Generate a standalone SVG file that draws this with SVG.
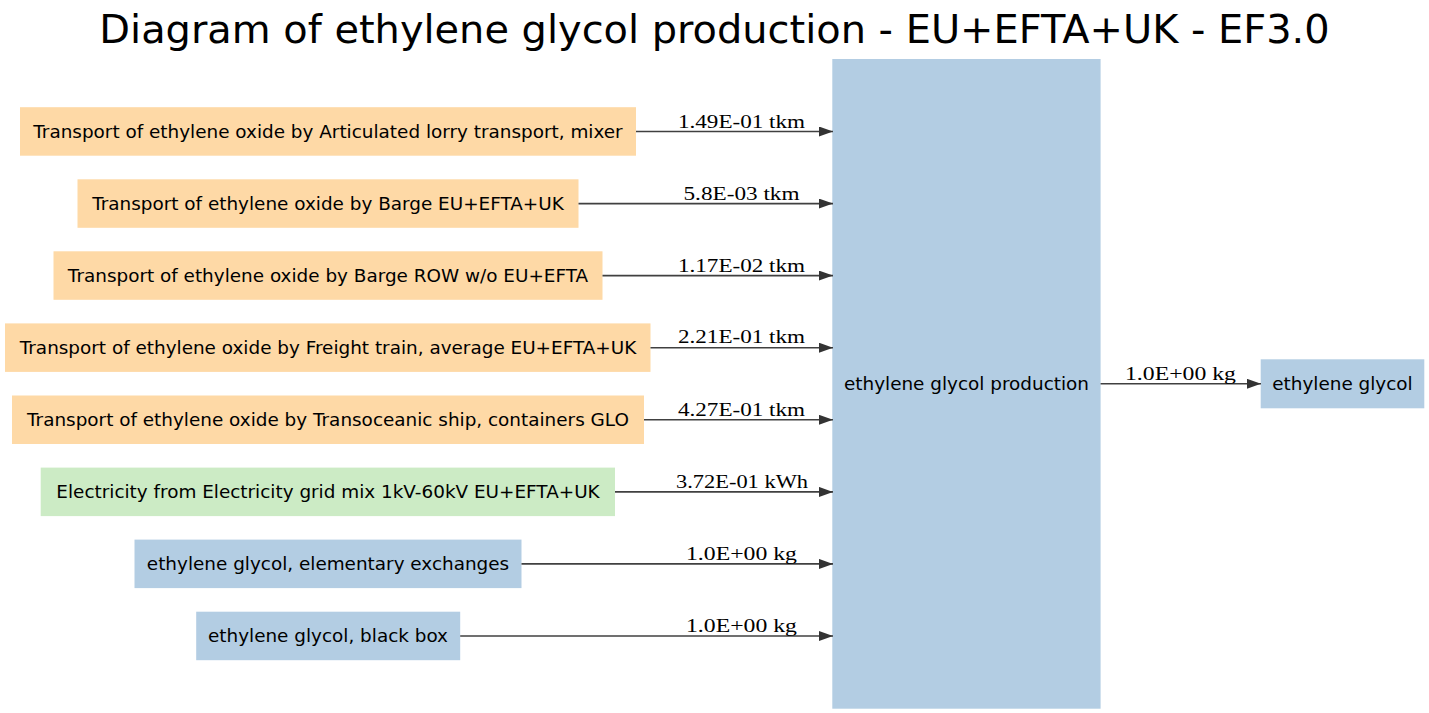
<svg xmlns="http://www.w3.org/2000/svg" width="1429" height="713" viewBox="0 0 1429 713">
<style>
.bg{fill:#ffffff}
.title{font-family:"DejaVu Sans",sans-serif;font-size:39.9px;fill:#000;text-anchor:middle}
.nt{font-family:"DejaVu Sans",sans-serif;font-size:18.4px;fill:#000;text-anchor:middle}
.el{font-family:"Liberation Serif","Times New Roman",serif;font-size:19.5px;fill:#000;text-anchor:middle}
.orange{fill:#fed9a6}
.green{fill:#ccebc5}
.blue{fill:#b3cde3}
.edge{stroke:#404040;stroke-width:1.6;fill:none}
</style>
<defs>
<marker id="arr" markerUnits="userSpaceOnUse" markerWidth="15" markerHeight="11" refX="14" refY="5" orient="auto">
<path d="M0,0 L14,5 L0,10 z" fill="#333333"/>
</marker>
</defs>
<rect class="bg" x="0" y="0" width="1429" height="713"/>
<text class="title" x="714.5" y="43">Diagram of ethylene glycol production - EU+EFTA+UK - EF3.0</text>

<g id="n1"><rect class="orange" x="20" y="107.2" width="616" height="48.5"/><text class="nt" x="328" y="137.6">Transport of ethylene oxide by Articulated lorry transport, mixer</text></g>
<g id="n2"><rect class="orange" x="77.5" y="179.3" width="501" height="48.5"/><text class="nt" x="328" y="209.7">Transport of ethylene oxide by Barge EU+EFTA+UK</text></g>
<g id="n3"><rect class="orange" x="53.5" y="251.3" width="549" height="48.5"/><text class="nt" x="328" y="281.7">Transport of ethylene oxide by Barge ROW w/o EU+EFTA</text></g>
<g id="n4"><rect class="orange" x="5" y="323.4" width="645.5" height="48.5"/><text class="nt" x="328" y="353.8">Transport of ethylene oxide by Freight train, average EU+EFTA+UK</text></g>
<g id="n5"><rect class="orange" x="12" y="395.5" width="632" height="48.5"/><text class="nt" x="328" y="425.9">Transport of ethylene oxide by Transoceanic ship, containers GLO</text></g>
<g id="n6"><rect class="green" x="40.7" y="467.6" width="574.3" height="48.5"/><text class="nt" x="328" y="498">Electricity from Electricity grid mix 1kV-60kV EU+EFTA+UK</text></g>
<g id="n7"><rect class="blue" x="134.5" y="539.6" width="387" height="48.5"/><text class="nt" x="328" y="570">ethylene glycol, elementary exchanges</text></g>
<g id="n8"><rect class="blue" x="196.2" y="611.7" width="264" height="48.5"/><text class="nt" x="328" y="642.1">ethylene glycol, black box</text></g>
<g id="main"><rect class="blue" x="832.3" y="59" width="268.3" height="649.7"/><text class="nt" x="966.5" y="389.6">ethylene glycol production</text></g>
<g id="out"><rect class="blue" x="1260.7" y="359.3" width="163.6" height="49"/><text class="nt" x="1342.5" y="389.6">ethylene glycol</text></g>

<g id="edges">
<line class="edge" x1="636" y1="131.5" x2="833" y2="131.5" marker-end="url(#arr)"/>
<text class="el" x="741.5" y="127.5" textLength="127" lengthAdjust="spacingAndGlyphs">1.49E-01 tkm</text>
<line class="edge" x1="578.5" y1="203.6" x2="833" y2="203.6" marker-end="url(#arr)"/>
<text class="el" x="741.5" y="199.6" textLength="116" lengthAdjust="spacingAndGlyphs">5.8E-03 tkm</text>
<line class="edge" x1="602.5" y1="275.6" x2="833" y2="275.6" marker-end="url(#arr)"/>
<text class="el" x="741.5" y="271.6" textLength="127" lengthAdjust="spacingAndGlyphs">1.17E-02 tkm</text>
<line class="edge" x1="650.5" y1="347.7" x2="833" y2="347.7" marker-end="url(#arr)"/>
<text class="el" x="741.5" y="343.2" textLength="127" lengthAdjust="spacingAndGlyphs">2.21E-01 tkm</text>
<line class="edge" x1="644" y1="419.8" x2="833" y2="419.8" marker-end="url(#arr)"/>
<text class="el" x="741.5" y="415.5" textLength="127" lengthAdjust="spacingAndGlyphs">4.27E-01 tkm</text>
<line class="edge" x1="615" y1="491.9" x2="833" y2="491.9" marker-end="url(#arr)"/>
<text class="el" x="742" y="487.6" textLength="132" lengthAdjust="spacingAndGlyphs">3.72E-01 kWh</text>
<line class="edge" x1="521.5" y1="563.9" x2="833" y2="563.9" marker-end="url(#arr)"/>
<text class="el" x="741.5" y="559.6" textLength="111" lengthAdjust="spacingAndGlyphs">1.0E+00 kg</text>
<line class="edge" x1="460.2" y1="636" x2="833" y2="636" marker-end="url(#arr)"/>
<text class="el" x="741.5" y="631.7" textLength="111" lengthAdjust="spacingAndGlyphs">1.0E+00 kg</text>
<line class="edge" x1="1100.6" y1="383.8" x2="1261" y2="383.8" marker-end="url(#arr)"/>
<text class="el" x="1180.5" y="379.5" textLength="111" lengthAdjust="spacingAndGlyphs">1.0E+00 kg</text>
</g>
</svg>
